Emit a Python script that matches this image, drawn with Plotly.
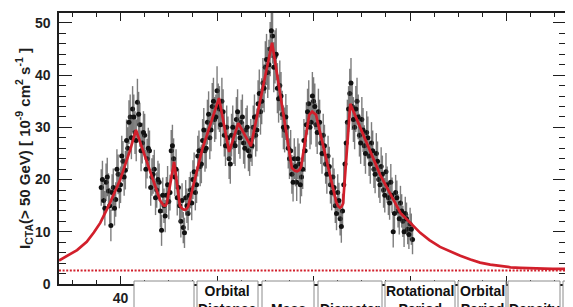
import plotly.graph_objects as go

# ---------------- data ----------------
time_a = [36.0, 36.5, 37.0, 37.5, 38.0, 38.5, 39.0, 39.5, 40.0, 40.5,
          41.0, 41.5, 42.0, 42.5, 43.0, 43.5, 44.0, 44.5, 45.0, 45.5,
          46.0, 46.5, 47.0, 47.5, 48.0, 48.5, 49.0, 49.5, 50.0, 50.5,
          51.0, 51.5, 52.0, 52.5, 53.0, 53.5, 54.0, 54.5, 55.0, 55.5,
          56.0, 56.5, 57.0, 57.5, 58.0, 58.5, 59.0, 59.5, 60.0, 60.5,
          61.0, 61.5, 62.0, 62.5, 63.0, 63.5, 64.0, 64.5, 65.0, 65.5,
          66.0, 66.5, 67.0, 67.5, 68.0, 68.5, 69.0, 69.5, 70.0, 70.5,
          71.0, 71.5, 72.0, 72.5, 73.0, 73.5, 74.0, 74.5, 75.0, 75.5,
          76.0, 76.5, 77.0, 77.5, 78.0, 78.5, 79.0, 79.5, 80.0, 80.5,
          81.0, 81.5, 82.0, 82.5, 83.0, 83.5, 84.0, 84.5, 85.0, 85.5,
          86.0, 86.5, 87.0, 87.5, 88.0, 88.5, 89.0, 89.5, 90.0, 90.5,
          91.0, 91.5, 92.0, 92.5, 93.0, 93.5, 94.0, 94.5, 95.0, 95.5,
          96.0, 96.5, 97.0, 97.5, 98.0, 98.5, 99.0, 99.5, 100.0, 100.5]

flux_a = [18.5, 16.0, 19.5, 17.8, 11.2, 18.5, 16.2, 21.0, 19.0, 23.5,
          21.8, 26.0, 32.0, 33.5, 29.0, 34.8, 30.5, 27.0, 28.5, 24.0,
          25.5, 20.5, 22.0, 18.0, 19.5, 10.3, 15.0, 17.0, 15.8, 25.5,
          24.0, 22.0, 18.5, 12.0, 10.8, 16.5, 13.5, 18.0, 20.0, 17.5,
          24.5, 22.5, 27.5, 25.5, 31.0, 28.0, 34.0, 31.5, 37.0, 33.5,
          35.0, 28.5, 30.0, 24.0, 28.5, 27.0, 31.5, 29.0, 31.0, 27.0,
          29.5, 25.5, 27.5, 30.0, 28.5, 34.5, 33.0, 38.5, 41.5, 40.5,
          45.0, 47.5, 43.5, 37.5, 38.0, 32.5, 29.5, 30.0, 24.0, 21.0,
          24.0, 19.5, 23.0, 20.5, 27.5, 30.5, 34.5, 31.0, 35.0, 30.5,
          33.0, 27.0, 28.5, 23.0, 24.5, 19.0, 20.5, 15.0, 17.5, 12.5,
          14.0, 23.0, 31.0, 36.5, 34.0, 30.0, 35.0, 28.5, 31.5, 26.5,
          29.0, 24.5, 27.0, 22.0, 25.0, 20.0, 22.5, 18.0, 21.5, 16.5,
          19.5, 10.0, 17.5, 14.0, 15.5, 12.0, 13.5, 10.5, 11.5, 8.5]

err_a = [3.5, 3.2, 3.6, 3.4, 3.0, 3.6, 3.3, 3.8, 3.5, 3.9,
         3.7, 4.0, 4.3, 4.4, 4.1, 4.5, 4.2, 3.9, 4.1, 3.8,
         3.9, 3.6, 3.7, 3.4, 3.6, 3.0, 3.3, 3.5, 3.4, 4.0,
         3.9, 3.8, 3.5, 3.1, 3.0, 3.4, 3.2, 3.5, 3.7, 3.4,
         3.9, 3.8, 4.1, 4.0, 4.3, 4.1, 4.5, 4.3, 4.7, 4.4,
         4.5, 4.1, 4.2, 3.9, 4.1, 4.0, 4.3, 4.1, 4.3, 4.0,
         4.2, 3.9, 4.1, 4.2, 4.1, 4.5, 4.4, 4.8, 5.0, 4.9,
         5.2, 5.3, 5.1, 4.8, 4.8, 4.5, 4.3, 4.3, 3.9, 3.7,
         3.9, 3.6, 3.9, 3.7, 4.1, 4.3, 4.5, 4.3, 4.6, 4.2,
         4.4, 4.0, 4.1, 3.8, 3.9, 3.6, 3.7, 3.3, 3.5, 3.2,
         3.3, 3.9, 4.3, 4.7, 4.5, 4.2, 4.5, 4.1, 4.3, 3.9,
         4.1, 3.8, 4.0, 3.6, 3.9, 3.5, 3.7, 3.4, 3.6, 3.3,
         3.5, 3.0, 3.4, 3.2, 3.3, 3.0, 3.2, 2.9, 3.1, 2.8]

time_b = [36.25, 36.75, 37.25, 37.75, 38.25, 38.75, 39.25, 39.75, 40.25, 40.75,
          41.25, 41.75, 42.25, 42.75, 43.25, 43.75, 44.25, 44.75, 45.25, 45.75,
          46.25, 46.75, 47.25, 47.75, 48.25, 48.75, 49.25, 49.75, 50.25, 50.75,
          51.25, 51.75, 52.25, 52.75, 53.25, 53.75, 54.25, 54.75, 55.25, 55.75,
          56.25, 56.75, 57.25, 57.75, 58.25, 58.75, 59.25, 59.75, 60.25, 60.75,
          61.25, 61.75, 62.25, 62.75, 63.25, 63.75, 64.25, 64.75, 65.25, 65.75,
          66.25, 66.75, 67.25, 67.75, 68.25, 68.75, 69.25, 69.75, 70.25, 70.75,
          71.25, 71.75, 72.25, 72.75, 73.25, 73.75, 74.25, 74.75, 75.25, 75.75,
          76.25, 76.75, 77.25, 77.75, 78.25, 78.75, 79.25, 79.75, 80.25, 80.75,
          81.25, 81.75, 82.25, 82.75, 83.25, 83.75, 84.25, 84.75, 85.25, 85.75,
          86.25, 86.75, 87.25, 87.75, 88.25, 88.75, 89.25, 89.75, 90.25, 90.75,
          91.25, 91.75, 92.25, 92.75, 93.25, 93.75, 94.25, 94.75, 95.25, 95.75,
          96.25, 96.75, 97.25, 97.75, 98.25, 98.75, 99.25, 99.75, 100.25]

flux_b = [20.0, 14.5, 20.5, 15.0, 17.5, 14.5, 22.0, 18.0, 24.5, 20.5,
          27.5, 31.0, 28.0, 32.0, 27.5, 32.5, 25.5, 29.0, 22.0, 26.0,
          18.5, 21.0, 16.5, 20.0, 14.0, 17.0, 13.0, 19.0, 17.5, 26.5,
          20.5, 16.5, 15.0, 16.0, 9.8, 15.0, 17.0, 15.5, 21.5, 19.0,
          25.5, 23.0, 29.5, 26.0, 32.5, 29.5, 35.0, 32.0, 34.0, 30.5,
          33.0, 26.5, 28.0, 23.0, 30.0, 26.5, 33.0, 28.0, 32.0, 26.0,
          30.0, 24.5, 26.5, 32.0, 29.5, 36.5, 35.0, 37.5, 43.0, 42.0,
          48.5, 41.5, 44.0, 35.5, 36.0, 30.0, 32.0, 26.0, 25.5, 19.5,
          22.5, 24.0, 19.0, 22.0, 25.5, 33.0, 30.0, 36.0, 34.0, 29.0,
          31.0, 25.0, 26.5, 21.0, 22.5, 17.5, 18.5, 13.5, 16.0, 11.0,
          19.0, 27.0, 33.5, 38.5, 31.5, 33.5, 32.0, 27.0, 29.5, 25.0,
          28.0, 23.0, 25.5, 21.0, 23.5, 19.0, 21.0, 17.0, 19.0, 15.5,
          17.0, 13.5, 16.5, 12.5, 14.0, 10.0, 12.5, 9.5, 10.5]

err_b = [3.6, 3.3, 3.7, 3.4, 3.5, 3.3, 3.8, 3.5, 3.9, 3.6,
         4.0, 4.2, 4.1, 4.3, 4.0, 4.3, 3.9, 4.1, 3.7, 3.9,
         3.5, 3.7, 3.3, 3.6, 3.2, 3.4, 3.1, 3.6, 3.4, 4.0,
         3.7, 3.4, 3.2, 3.3, 2.9, 3.3, 3.5, 3.3, 3.7, 3.5,
         3.9, 3.7, 4.2, 3.9, 4.4, 4.1, 4.5, 4.3, 4.4, 4.1,
         4.3, 3.9, 4.1, 3.8, 4.2, 3.9, 4.3, 4.0, 4.3, 3.9,
         4.2, 3.8, 3.9, 4.3, 4.1, 4.6, 4.4, 4.6, 4.9, 4.8,
         5.2, 4.8, 5.0, 4.6, 4.6, 4.2, 4.4, 3.9, 4.0, 3.7,
         3.8, 3.9, 3.6, 3.8, 4.0, 4.4, 4.2, 4.6, 4.4, 4.1,
         4.3, 3.9, 4.0, 3.7, 3.8, 3.4, 3.6, 3.2, 3.4, 3.1,
         3.6, 4.0, 4.4, 4.8, 4.3, 4.4, 4.3, 4.0, 4.2, 3.9,
         4.1, 3.8, 3.9, 3.6, 3.8, 3.5, 3.6, 3.3, 3.5, 3.2,
         3.4, 3.1, 3.3, 3.0, 3.2, 2.9, 3.1, 2.8, 3.0]

model_x = [27.25, 29.0, 31.0, 33.0, 34.5, 35.8, 37.8, 39.9, 42.0, 43.2,
           48.2, 48.7, 49.0, 49.3, 49.6, 51.1, 52.3, 52.8, 53.2, 53.6,
           54.0, 56.9, 60.4, 62.5, 64.4, 67.0, 71.4, 75.5, 76.1, 76.6,
           77.0, 77.4, 79.1, 79.7, 80.5, 84.7, 85.1, 85.5, 85.8, 86.1,
           87.6, 93.8, 98.0, 102.1, 104.0, 106.2, 108.3, 110.4, 112.5, 114.5,
           116.6, 118.7, 120.8, 122.8, 125.0, 127.0, 129.5, 132.3]
model_y = [4.5, 5.4, 6.5, 8.1, 9.9, 11.7, 15.5, 19.9, 25.7, 29.5,
           16.0, 15.3, 15.0, 15.0, 15.4, 23.4, 15.0, 14.4, 14.2, 14.3,
           14.8, 25.7, 35.6, 25.3, 30.8, 26.4, 46.2, 22.2, 21.7, 21.6,
           21.8, 22.4, 32.4, 33.0, 32.4, 15.7, 14.9, 14.6, 14.8, 15.4,
           34.5, 20.9, 13.6, 9.8, 8.4, 7.1, 6.2, 5.4, 4.7, 4.1,
           3.7, 3.4, 3.2, 3.1, 3.0, 2.95, 2.9, 2.9]

baseline_level = 2.6

x_tickvals = [40, 60, 80, 100, 120]
x_ticktext = ["40", "", "", "", ""]
y_tickvals = [0, 10, 20, 30, 40, 50]
y_ticktext = ["0", "10", "20", "30", "40", "50"]

table_headers = ["", "Orbital<br>Distance", "Mass", "Diameter",
                 "Rotational<br>Period", "Orbital<br>Period", "Density", "S<br>G"]

# ---------------- layout geometry ----------------
# Screen coordinates of the reference; the page body adds an 8px offset.
OFF = 8
SW, SH = 573, 307
W, H = SW - OFF, SH - OFF
PL, PR, PT, PB = 59, 566, 13, 284   # plot frame on screen


def fx(p):
    return (p - PL) / (PR - PL)


def fy(p):
    return (PB - p) / (PB - PT)


RED = "#d21f2b"
INK = "#1e1e1e"
FONT = "Liberation Sans"
NBSP = "\u00a0"

fig = go.Figure()

for tx, fl, er in ((time_a, flux_a, err_a), (time_b, flux_b, err_b)):
    fig.add_trace(go.Scatter(
        x=tx, y=fl, mode="markers",
        marker=dict(color="#111111", size=5),
        error_y=dict(type="data", array=er, visible=True,
                     color="rgba(70,70,70,0.7)", thickness=1.4, width=0),
        showlegend=False, hoverinfo="skip"))

fig.add_trace(go.Scatter(
    x=model_x, y=model_y, mode="lines",
    line=dict(color=RED, width=2.7),
    showlegend=False, hoverinfo="skip"))

fig.add_hline(y=baseline_level, line=dict(color=RED, width=2, dash="2px,1.6px"))

axis_common = dict(showline=True, linecolor=INK, linewidth=1.5, mirror="allticks",
                   ticks="inside", tickcolor=INK, tickwidth=1.3,
                   showgrid=False, zeroline=False,
                   tickfont=dict(family=FONT, size=14, color=INK, weight="bold"))

fig.update_xaxes(range=[27.25, 132.3], tickmode="array", tickvals=x_tickvals,
                 ticktext=x_ticktext, ticklen=8,
                 minor=dict(dtick=5, tick0=0, ticklen=4, ticks="inside",
                            tickcolor=INK, tickwidth=1),
                 **axis_common)

fig.update_yaxes(range=[0, 51.9], tickmode="array", tickvals=y_tickvals,
                 ticktext=[t + NBSP for t in y_ticktext], ticklen=13,
                 minor=dict(dtick=2, tick0=0, ticklen=7, ticks="inside",
                            tickcolor=INK, tickwidth=1),
                 title=dict(text="I<sub>CTA</sub>(> 50 GeV) [ 10<sup>-9</sup> cm<sup>2</sup> s<sup>-1</sup> ]",
                            font=dict(family=FONT, size=15, color=INK, weight="bold"),
                            standoff=1),
                 **axis_common)

# ---------------- overlaid table ----------------
HDR_FONT = dict(family=FONT, size=14, color="#111", weight="bold")
shapes = [dict(type="rect", xref="paper", yref="paper", layer="above",
               x0=fx(131), x1=fx(660), y0=fy(360), y1=fy(278),
               fillcolor="white", line=dict(color="#a8a8a8", width=1))]
cells = [(134, 194), (197, 258), (262, 314), (318, 382),
         (385, 455), (458, 506), (508, 560), (563, 640)]
annotations = []
for (c0, c1), label in zip(cells, table_headers):
    cell = dict(type="rect", xref="paper", yref="paper", layer="above",
                x0=fx(c0), x1=fx(c1), y0=fy(360), y1=fy(281),
                fillcolor="white", line=dict(color="#8c8c8c", width=1))
    if label and c1 > SW:
        # last column runs off the window: label drawn inside the cell, top-left
        cell["label"] = dict(text=label, textposition="top left", padding=1,
                             font=HDR_FONT)
        shapes.append(cell)
        continue
    shapes.append(cell)
    if not label:
        continue
    two_line = "<br>" in label
    top = 281 if two_line else 299
    annotations.append(dict(text=label, xref="paper", yref="paper",
                            x=fx((c0 + c1) / 2), y=fy(top), xanchor="center",
                            yanchor="top", showarrow=False, font=HDR_FONT))

fig.update_layout(width=W, height=H,
                  margin=dict(l=PL - OFF, r=W - (PR - OFF), t=PT - OFF,
                              b=H - (PB - OFF), autoexpand=False),
                  paper_bgcolor="white", plot_bgcolor="white",
                  shapes=shapes, annotations=annotations)

fig.write_html("out.html")
